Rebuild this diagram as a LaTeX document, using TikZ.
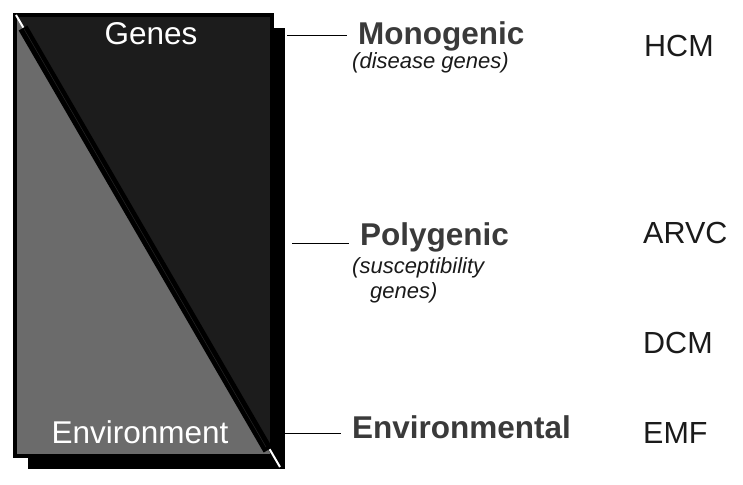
\documentclass[tikz,border=0pt]{standalone}
\usepackage{fontspec}
\setmainfont{Liberation Sans}
\definecolor{darkfill}{HTML}{1C1C1C}
\definecolor{grayfill}{HTML}{6B6B6B}
\definecolor{labelgray}{HTML}{3A3A3A}
\definecolor{textblack}{HTML}{1A1A1A}
\tikzset{
  boxlabel/.style={text=white,font=\fontsize{31.5}{36}\selectfont,inner sep=0pt,anchor=base},
  kindlabel/.style={text=labelgray,font=\fontsize{31.5}{36}\bfseries\selectfont,inner sep=0pt,inner xsep=11pt,anchor=base west},
  notelabel/.style={text=textblack,font=\fontsize{22}{26}\itshape\selectfont,inner sep=0pt,anchor=base west},
  caselabel/.style={text=textblack,font=\fontsize{30.5}{36}\selectfont,inner sep=0pt,anchor=base west}
}
\begin{document}
\begin{tikzpicture}[x=1pt,y=-1pt]
  \useasboundingbox (0,0) rectangle (743,484);
  % box with its shadow
  \fill[black] (28,28) rectangle (285,469);
  \fill[grayfill] (15,15) -- (15,456) -- (272,456) -- cycle;
  \fill[darkfill] (15,15) -- (272,15) -- (272,456) -- cycle;
  \draw[line width=4pt] (15,456) -- (15,15) -- (272,15) -- (272,456) -- cycle;
  \draw[white,line width=2pt] (16,15) -- (280,467);
  \draw[line width=10pt] (23,28) -- (268,450);
  \draw[gray!30!black,line width=0.5pt] (24,29) -- (266,447);
  \begin{scope}[every node/.style={boxlabel}]
    \node (g) at (151,45) {Genes};
    \node (v) at (140,443) {Environment};
  \end{scope}
  \begin{scope}[every node/.style={kindlabel}]
    \node (m) at (347,45) {Monogenic};
    \node (p) at (349,245) {Polygenic};
    \node (e) at (341,438) {Environmental};
  \end{scope}
  \begin{scope}[every node/.style={notelabel}]
    \node (md) at (352,69) {(disease genes)};
    \node (ps) at (352,273) {(susceptibility};
    \node (pg) at (370,298) {genes)};
  \end{scope}
  \begin{scope}[every node/.style={caselabel}]
    \node (hcm) at (644,57) {HCM};
    \node (arvc) at (643,243) {ARVC};
    \node (dcm) at (643,353) {DCM};
    \node (emf) at (643,443) {EMF};
  \end{scope}
  % ticks from the box to the kinds
  \coordinate (m0) at (287,35);
  \coordinate (p0) at (292,243);
  \coordinate (e0) at (285,433);
  \begin{scope}[line width=0.8pt]
    \draw (m0) -- (m0 -| m.west);
    \draw (p0) -- (p0 -| p.west);
    \draw (e0) -- (e0 -| e.west);
  \end{scope}
\end{tikzpicture}
\end{document}
